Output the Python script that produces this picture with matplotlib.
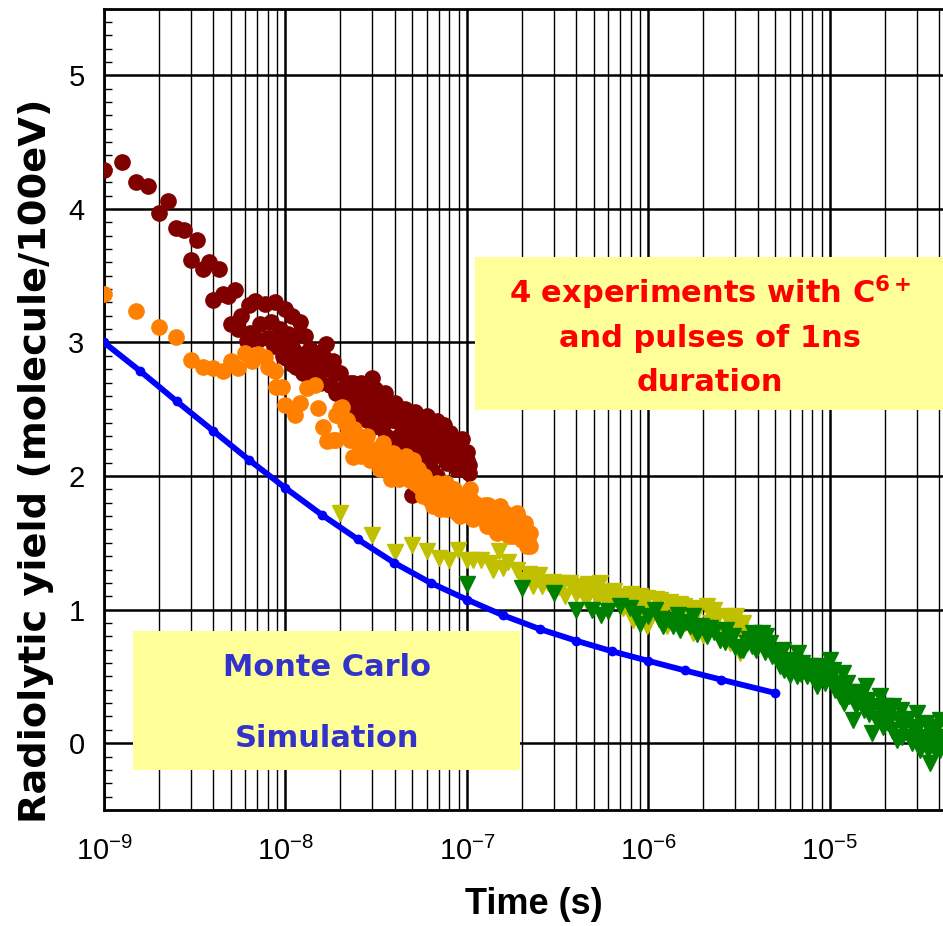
import numpy as np
import matplotlib
matplotlib.use("Agg")
import matplotlib.pyplot as plt
from matplotlib.patches import Rectangle
from matplotlib.ticker import FixedLocator, MultipleLocator, NullFormatter

plt.rcParams['font.family'] = ['Liberation Sans', 'DejaVu Sans']
plt.rcParams['mathtext.fontset'] = 'custom'
plt.rcParams['mathtext.rm'] = 'Liberation Sans'
plt.rcParams['mathtext.bf'] = 'DejaVu Sans:bold'

# Monte Carlo simulation
mc_t = [1.0e-9, 1.585e-9, 2.512e-9, 3.981e-9, 6.31e-9, 1.0e-8, 1.585e-8, 2.512e-8,
        3.981e-8, 6.31e-8, 1.0e-7, 1.585e-7, 2.512e-7, 3.981e-7, 6.31e-7, 1.0e-6,
        1.585e-6, 2.512e-6, 5.0e-6]
mc_y = [3.00, 2.785, 2.56, 2.34, 2.12, 1.91, 1.71, 1.525, 1.35, 1.20, 1.075, 0.957,
        0.855, 0.768, 0.688, 0.616, 0.545, 0.476, 0.376]

# experiment 1 (dark red circles)
dr_t = [1.0e-9, 1.26e-9, 1.5e-9, 1.75e-9, 2.0e-9, 2.26e-9, 2.5e-9, 2.77e-9, 3.0e-9, 3.27e-9,
        3.5e-9, 3.8e-9, 4.3e-9, 4.0e-9, 4.54e-9, 4.84e-9, 5.3e-9, 5.0e-9, 5.7e-9, 6.3e-9,
        6.8e-9, 7.7e-9, 8.75e-9, 9.9e-9, 1.08e-8, 5.5e-9, 6.4e-9, 7.2e-9, 8.3e-9, 9.3e-9,
        1.03e-8, 6.1e-9, 7.1e-9, 8.0e-9, 8.6e-9, 9.5e-9, 1.01e-8, 1.08e-8, 1.2e-8, 1.28e-8,
        9.7e-9, 1.37e-8, 1.67e-8, 1.83e-8, 1.49e-8, 1.25e-8, 1.37e-8, 2.0e-8, 2.27e-8, 2.98e-8,
        2.68e-8, 2.17e-8, 2.47e-8, 2.92e-8, 3.05e-8, 1.91e-8, 2.36e-8, 3.53e-8, 3.05e-8, 3.77e-8,
        4.55e-8, 5.28e-8, 6.8e-8, 8.05e-8, 9.15e-8, 9.95e-8, 1.02e-7, 8.8e-8, 7.4e-8, 6.25e-8,
        5.5e-8, 4.46e-8, 3.32e-8, 2.8e-8, 4.95e-8, 6.3e-8, 5.06e-8, 4.1e-8, 1.6e-8, 1.1e-8,
        1.15e-8, 2.5e-8, 3.3e-8, 4.0e-8, 6.0e-8, 7.0e-8, 8.5e-8, 9.5e-8, 7.8e-8, 4.8e-8,
        5.8e-8, 6.8e-8, 1.1e-8, 1.15e-8, 1.3e-8, 1.4e-8, 1.5e-8, 1.55e-8, 1.7e-8, 1.75e-8,
        1.9e-8, 2.05e-8, 2.1e-8, 2.2e-8, 2.4e-8, 2.55e-8, 2.6e-8, 2.75e-8, 2.9e-8, 3.1e-8,
        3.2e-8, 3.4e-8, 3.5e-8, 3.6e-8, 3.9e-8, 4.0e-8, 4.2e-8, 4.4e-8, 4.7e-8, 5.0e-8,
        5.2e-8, 5.5e-8, 5.8e-8, 6.0e-8, 6.5e-8, 6.6e-8, 7.2e-8, 7.5e-8, 8.0e-8, 8.3e-8,
        8.8e-8, 9.0e-8, 9.4e-8, 9.7e-8, 1.0e-7, 1.03e-7]
dr_y = [4.29, 4.35, 4.20, 4.17, 3.97, 4.06, 3.86, 3.84, 3.62, 3.77,
        3.55, 3.60, 3.55, 3.32, 3.36, 3.35, 3.39, 3.14, 3.20, 3.28,
        3.31, 3.29, 3.30, 3.25, 3.20, 3.10, 3.07, 3.14, 3.15, 3.10,
        3.06, 3.01, 3.02, 3.03, 2.97, 3.01, 2.885, 2.835, 3.15, 3.05,
        2.90, 2.95, 2.985, 2.86, 2.80, 2.77, 2.87, 2.77, 2.70, 2.735,
        2.65, 2.60, 2.52, 2.47, 2.37, 2.77, 2.70, 2.62, 2.50, 2.50,
        2.50, 2.40, 2.41, 2.32, 2.22, 2.12, 2.02, 2.05, 2.17, 2.22,
        2.30, 2.35, 2.37, 2.42, 1.86, 2.05, 2.12, 2.22, 2.90, 2.95,
        2.90, 2.60, 2.55, 2.42, 2.32, 2.28, 2.15, 2.05, 2.10, 2.30,
        2.14, 2.00, 3.05, 2.82, 2.92, 2.75, 2.92, 2.70, 2.80, 2.68,
        2.62, 2.65, 2.55, 2.48, 2.62, 2.45, 2.70, 2.55, 2.60, 2.65,
        2.45, 2.52, 2.40, 2.30, 2.42, 2.55, 2.30, 2.45, 2.38, 2.25,
        2.48, 2.20, 2.40, 2.45, 2.35, 2.15, 2.30, 2.38, 2.22, 2.28,
        2.18, 2.12, 2.28, 2.18, 2.18, 2.08]

# experiment 2 (orange circles)
or_t = [1.0e-9, 1.5e-9, 2.0e-9, 2.5e-9, 3.0e-9, 3.5e-9, 4.0e-9, 4.54e-9, 5.0e-9, 5.5e-9,
        6.0e-9, 6.5e-9, 7.1e-9, 7.7e-9, 8.0e-9, 8.75e-9, 8.9e-9, 9.6e-9, 9.9e-9, 1.13e-8,
        1.2e-8, 1.31e-8, 1.46e-8, 1.52e-8, 1.61e-8, 1.69e-8, 1.91e-8, 2.04e-8, 2.17e-8, 1.91e-8,
        2.17e-8, 2.36e-8, 2.68e-8, 2.86e-8, 3.11e-8, 2.0e-8, 2.13e-8, 1.83e-8, 2.27e-8, 2.5e-8,
        2.92e-8, 3.46e-8, 3.93e-8, 4.46e-8, 5.06e-8, 4.85e-8, 5.5e-8, 6.25e-8, 7.1e-8, 8.05e-8,
        7.1e-8, 8.8e-8, 9.55e-8, 1.04e-7, 1.18e-7, 1.29e-7, 1.52e-7, 1.73e-7, 1.88e-7, 2.04e-7,
        2.13e-7, 1.80e-7, 1.46e-7, 2.22e-7, 2.22e-7, 1.88e-7, 1.52e-7, 1.29e-7, 1.08e-7, 9.15e-8,
        7.7e-8, 6.5e-8, 3.7e-8, 4.2e-8, 5.8e-8, 6.8e-8, 8.5e-8, 1.0e-7, 1.1e-7, 1.25e-7,
        1.6e-7, 1.7e-7, 1.95e-7, 1.35e-7, 2.4e-8, 2.6e-8, 2.8e-8, 3.2e-8, 3.3e-8, 3.6e-8,
        3.8e-8, 4.0e-8, 4.3e-8, 4.6e-8, 5.2e-8, 5.4e-8, 5.7e-8, 6.0e-8, 6.5e-8, 6.8e-8,
        7.4e-8, 7.7e-8, 8.2e-8, 8.5e-8, 9.0e-8, 9.2e-8, 9.8e-8, 1.05e-7, 1.12e-7, 1.15e-7,
        1.22e-7, 1.3e-7, 1.38e-7, 1.42e-7, 1.55e-7, 1.62e-7, 1.68e-7, 1.75e-7, 1.85e-7, 1.92e-7,
        2.0e-7, 2.1e-7, 2.18e-7]
or_y = [3.365, 3.235, 3.115, 3.04, 2.87, 2.82, 2.81, 2.785, 2.86, 2.81,
        2.92, 2.86, 2.91, 2.89, 2.82, 2.785, 2.67, 2.67, 2.535, 2.46,
        2.55, 2.66, 2.685, 2.51, 2.37, 2.26, 2.46, 2.52, 2.42, 2.27,
        2.31, 2.14, 2.26, 2.20, 2.12, 2.51, 2.40, 2.27, 2.27, 2.25,
        2.12, 2.25, 2.17, 2.07, 2.12, 1.97, 1.92, 1.82, 1.875, 1.875,
        1.75, 1.725, 1.825, 1.90, 1.725, 1.625, 1.75, 1.70, 1.725, 1.60,
        1.475, 1.55, 1.575, 1.475, 1.575, 1.70, 1.775, 1.70, 1.675, 1.725,
        1.75, 1.775, 2.05, 1.98, 2.00, 1.95, 1.80, 1.78, 1.80, 1.78,
        1.62, 1.55, 1.55, 1.68, 2.35, 2.15, 2.30, 2.20, 2.05, 2.15,
        1.98, 2.10, 2.00, 2.15, 1.95, 2.05, 1.85, 1.95, 1.90, 1.80,
        1.82, 1.95, 1.78, 1.90, 1.80, 1.70, 1.75, 1.82, 1.70, 1.78,
        1.70, 1.78, 1.62, 1.72, 1.65, 1.72, 1.62, 1.60, 1.60, 1.65,
        1.52, 1.65, 1.53]

# experiment 3 (olive triangles)
ol_t = [2.0e-8, 2.98e-8, 4.0e-8, 5.0e-8, 6.0e-8, 7.0e-8, 8.0e-8, 8.95e-8, 1.0e-7, 1.08e-7,
        1.2e-7, 1.34e-7, 1.5e-7, 1.69e-7, 1.4e-7, 1.58e-7, 1.88e-7, 2.04e-7, 2.32e-7, 2.5e-7,
        2.8e-7, 2.32e-7, 2.99e-7, 3.39e-7, 3.47e-7, 4.1e-7, 4.66e-7, 5.4e-7, 6.14e-7, 5.18e-7,
        4.55e-7, 6.97e-7, 8.25e-7, 8.98e-7, 9.77e-7, 1.16e-6, 1.31e-6, 8.25e-7, 1.16e-6, 1.43e-6,
        1.56e-6, 1.84e-6, 2.09e-6, 1.77e-6, 2.0e-6, 2.38e-6, 2.69e-6, 3.05e-6, 3.19e-6, 2.82e-6,
        2.47e-6, 1.26e-6, 9.77e-7, 7.27e-7, 2.18e-6, 3.95e-6, 3.19e-6, 3.0e-7, 4.0e-7, 6.0e-7,
        7.5e-7, 1.05e-6, 1.4e-6, 1.7e-6, 9.0e-7, 2.2e-7, 2.6e-7, 3.2e-7, 3.7e-7, 4.3e-7,
        5.0e-7, 5.6e-7, 6.5e-7, 7.0e-7, 8.0e-7, 8.6e-7, 9.5e-7, 1.1e-6, 1.2e-6, 1.3e-6,
        1.5e-6, 1.6e-6, 1.8e-6, 1.9e-6, 2.2e-6, 2.3e-6, 2.6e-6, 2.9e-6, 3.3e-6, 3.5e-6]
ol_y = [1.725, 1.56, 1.43, 1.487, 1.437, 1.387, 1.375, 1.45, 1.375, 1.375,
        1.375, 1.35, 1.437, 1.36, 1.30, 1.31, 1.30, 1.225, 1.225, 1.26,
        1.20, 1.175, 1.21, 1.20, 1.10, 1.175, 1.19, 1.20, 1.135, 1.09,
        1.075, 1.10, 1.09, 1.10, 1.09, 1.075, 1.06, 0.925, 0.95, 0.96,
        1.025, 1.01, 1.025, 0.825, 0.81, 0.94, 0.95, 0.95, 0.85, 0.75,
        0.775, 0.875, 0.875, 1.01, 0.975, 0.775, 0.675, 1.15, 1.12, 1.05,
        1.06, 1.00, 1.02, 0.98, 0.98, 1.27, 1.18, 1.17, 1.20, 1.13,
        1.16, 1.10, 1.14, 1.05, 1.12, 1.03, 1.05, 1.08, 1.00, 0.92,
        1.04, 0.90, 0.95, 0.88, 0.90, 1.00, 0.85, 0.90, 0.90, 0.80]

# experiment 4 (green triangles)
gr_t = [1.0e-7, 2.0e-7, 3.0e-7, 4.0e-7, 4.86e-7, 6.0e-7, 7.0e-7, 7.9e-7, 9.0e-7, 1.0e-6,
        1.09e-6, 1.21e-6, 1.37e-6, 1.46e-6, 1.62e-6, 1.77e-6, 1.96e-6, 2.18e-6, 2.47e-6, 2.69e-6,
        2.93e-6, 3.19e-6, 3.47e-6, 2.04e-6, 2.63e-6, 3.32e-6, 4.2e-6, 4.67e-6, 5.3e-6, 6.03e-6,
        6.7e-6, 7.44e-6, 8.45e-6, 1.0e-5, 1.0e-5, 1.13e-5, 1.34e-5, 1.24e-5, 1.46e-5, 1.73e-5,
        1.7e-5, 1.88e-5, 2.05e-5, 2.33e-5, 2.53e-5, 3.0e-5, 3.13e-5, 3.56e-5, 3.71e-5, 4.04e-5,
        4.04e-5, 2.76e-5, 2.45e-5, 2.23e-5, 1.59e-5, 1.18e-5, 1.04e-5, 8.8e-6, 7.76e-6, 6.56e-6,
        5.77e-6, 5.08e-6, 4.47e-6, 3.78e-6, 3.7e-6, 5.5e-6, 6.2e-6, 7.0e-6, 8.0e-6, 9.0e-6,
        1.1e-5, 1.3e-5, 1.5e-5, 1.65e-5, 1.9e-5, 2.1e-5, 2.6e-5, 2.9e-5, 3.3e-5, 3.6e-5,
        4.0e-5, 3.4e-5, 5.5e-7, 8.5e-7, 1.15e-6, 1.3e-6, 1.5e-6, 1.7e-6, 1.85e-6, 2.1e-6,
        2.3e-6, 2.8e-6, 3.0e-6, 3.6e-6, 3.9e-6, 4.1e-6, 4.4e-6, 4.8e-6, 5.2e-6, 5.6e-6,
        6.4e-6, 6.9e-6, 7.2e-6, 8.2e-6, 8.6e-6, 9.4e-6, 9.7e-6, 1.06e-5, 1.15e-5, 1.2e-5,
        1.28e-5, 1.4e-5, 1.45e-5, 1.55e-5, 1.62e-5, 1.8e-5, 1.95e-5, 2.0e-5, 2.2e-5, 2.4e-5,
        2.5e-5, 2.7e-5, 2.85e-5, 3.05e-5, 3.2e-5, 3.45e-5, 3.65e-5, 3.8e-5, 3.9e-5, 4.1e-5]
gr_y = [1.19, 1.16, 1.125, 1.0, 1.0, 0.99, 1.025, 1.01, 0.89, 0.95,
        1.0, 0.875, 0.875, 0.96, 0.91, 0.95, 0.875, 0.86, 0.775, 0.85,
        0.80, 0.70, 0.75, 0.86, 0.76, 0.70, 0.825, 0.75, 0.575, 0.51,
        0.675, 0.50, 0.425, 0.625, 0.475, 0.35, 0.175, 0.45, 0.325, 0.275,
        0.075, 0.35, 0.20, 0.025, 0.125, 0.225, -0.05, -0.15, 0.10, 0.175,
        -0.05, 0.05, 0.25, 0.275, 0.425, 0.525, 0.55, 0.575, 0.575, 0.50,
        0.625, 0.675, 0.80, 0.825, 0.725, 0.70, 0.60, 0.60, 0.50, 0.50,
        0.45, 0.38, 0.30, 0.22, 0.25, 0.15, 0.15, 0.10, 0.05, 0.0,
        0.05, 0.15, 0.96, 0.97, 0.93, 0.92, 0.85, 0.88, 0.82, 0.80,
        0.83, 0.78, 0.72, 0.78, 0.70, 0.75, 0.68, 0.65, 0.62, 0.55,
        0.58, 0.52, 0.55, 0.55, 0.48, 0.45, 0.55, 0.40, 0.42, 0.30,
        0.35, 0.28, 0.38, 0.25, 0.32, 0.18, 0.12, 0.28, 0.10, 0.18,
        0.05, 0.18, 0.0, 0.12, 0.02, -0.05, 0.05, -0.05, 0.12, 0.0]

x_major = [1e-9, 1e-8, 1e-7, 1e-6, 1e-5]

fig = plt.figure(figsize=(9.43, 9.26), dpi=100)
ax = fig.add_axes([104 / 943, 1 - 810 / 926, 1 - 104 / 943, (810 - 8.5) / 926])

ax.set_xscale('log')
ax.set_xlim(1e-9, 10 ** -4.377)
ax.set_ylim(-0.5, 5.5)

ax.plot(dr_t, dr_y, 'o', color='#800000', ms=11, mec='#800000', zorder=3)
ax.plot(or_t, or_y, 'o', color='#FF8000', ms=11, mec='#FF8000', zorder=4)
ax.plot(ol_t, ol_y, 'v', color='#C0C000', ms=12, mec='#C0C000', zorder=5)
ax.plot(gr_t, gr_y, 'v', color='#008000', ms=12, mec='#008000', zorder=6)
ax.plot(mc_t, mc_y, '-o', color='#0000FF', lw=4.2, ms=6, zorder=7)

# ticks and grid
ax.xaxis.set_major_locator(FixedLocator(x_major))
x_minor = [m * d for d in x_major for m in range(2, 10) if m * d < 10 ** -4.377]
ax.xaxis.set_minor_locator(FixedLocator(x_minor))
ax.xaxis.set_minor_formatter(NullFormatter())
ax.yaxis.set_major_locator(MultipleLocator(1))
ax.yaxis.set_minor_locator(MultipleLocator(0.1))
ax.tick_params(axis='both', which='major', length=0, labelsize=21)
ax.tick_params(axis='x', which='major', pad=19)
ax.tick_params(axis='y', which='major', pad=14)
ax.tick_params(axis='y', which='minor', direction='in', length=6, width=1, left=True)
ax.tick_params(axis='x', which='minor', length=0)
ax.grid(True, which='major', color='black', lw=1.8, zorder=0)
ax.grid(True, which='minor', axis='x', color='black', lw=1.0, zorder=0)
ax.set_axisbelow(True)

for side in ['left', 'top', 'bottom']:
    ax.spines[side].set_linewidth(2)
ax.spines['right'].set_visible(False)

ax.set_xlabel('Time (s)', fontsize=26, fontweight='bold', va='center')
ax.xaxis.set_label_coords(0.5125, -0.1185)
ax.set_ylabel('Radiolytic yield (molecule/100eV)', fontsize=27.5, fontweight='bold',
              family='DejaVu Sans', va='center', ha='center')
ax.yaxis.set_label_coords(-0.081, 0.4354)

# annotation boxes
ax.add_patch(Rectangle((0.442, 0.499), 0.56, 0.191, transform=ax.transAxes,
                       facecolor='#FFFF99', edgecolor='none', zorder=2, clip_on=False))
ax.add_patch(Rectangle((0.0346, 0.0499), 0.4612, 0.1734, transform=ax.transAxes,
                       facecolor='#FFFF99', edgecolor='none', zorder=2))

red_lines = [r'4 experiments with C$^{\mathbf{6+}}$', 'and pulses of 1ns', 'duration']
red_base = [0.6326, 0.5777, 0.5228]
for txt, yb in zip(red_lines, red_base):
    ax.text(0.7223, yb, txt, transform=ax.transAxes, ha='center', va='baseline',
            color='#FF0000', fontsize=22, fontweight='bold', family='DejaVu Sans', zorder=8)

ax.text(0.2658, 0.1672, 'Monte Carlo', transform=ax.transAxes, ha='center', va='baseline',
        color='#3333CC', fontsize=22, fontweight='bold', family='DejaVu Sans', zorder=8)
ax.text(0.2658, 0.0786, 'Simulation', transform=ax.transAxes, ha='center', va='baseline',
        color='#3333CC', fontsize=22, fontweight='bold', family='DejaVu Sans', zorder=8)

fig.savefig('out.png', dpi=100)
